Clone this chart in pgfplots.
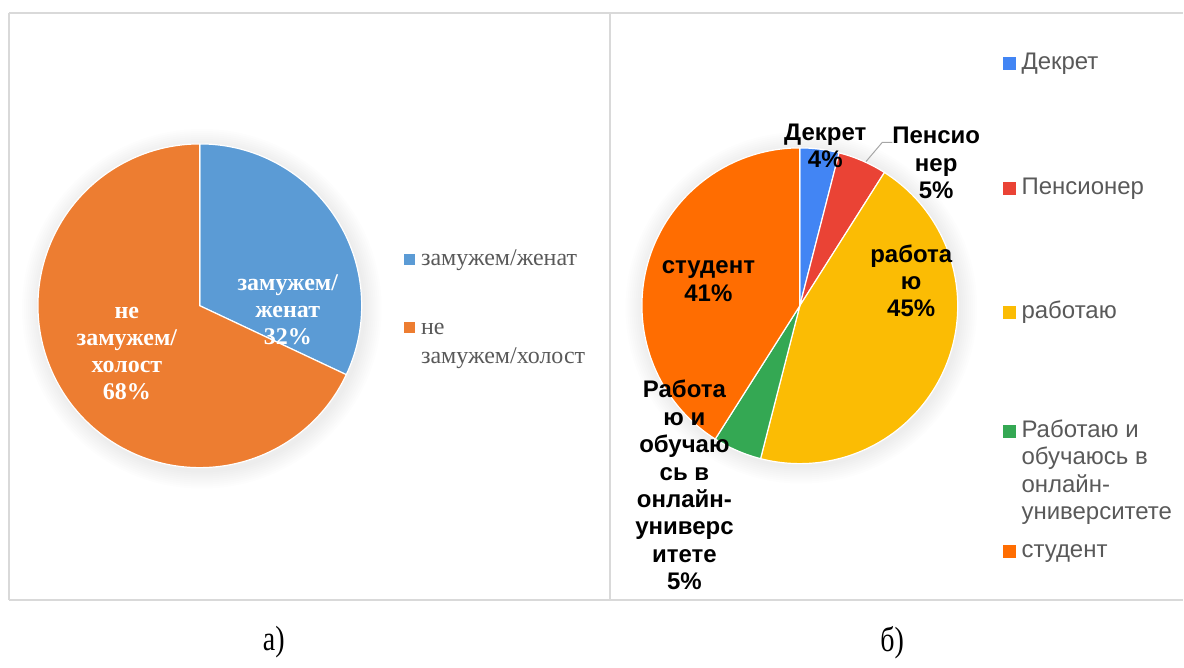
\documentclass[border=0pt]{standalone}
\usepackage{fontspec}
\setmainfont{Liberation Serif}
\newfontfamily\arial{Liberation Sans}
\usepackage{pgfplots}
\pgfplotsset{compat=1.18}

\definecolor{lblue}{HTML}{5B9BD5}
\definecolor{lorange}{HTML}{ED7D31}
\definecolor{gblue}{HTML}{4285F4}
\definecolor{gred}{HTML}{EA4335}
\definecolor{gyellow}{HTML}{FBBC04}
\definecolor{ggreen}{HTML}{34A853}
\definecolor{gorange}{HTML}{FF6D01}
\definecolor{legtext}{HTML}{595959}
\definecolor{frame}{HTML}{D9D9D9}

% pie slices: start angle, arc end angle (math degrees, clockwise from top)
% left: 32% / 68%; right: 4 / 5 / 45 / 5 / 41 %
\newcommand{\slice}[4]{% color, start, end, radius
  \addplot[fill=#1, draw=white, line width=0.6pt, data cs=polar]
    coordinates {(0,0) (#2,1)} arc[start angle=#2, end angle=#3, radius=#4] -- cycle;}

\begin{document}
\begin{tikzpicture}[x=0.5pt, y=-0.5pt]
  \path (0,0) rectangle (1184,660);
  \coordinate (L) at (200,306);
  \coordinate (R) at (800.5,306);
  % frames
  \draw[frame, line width=1pt] (9,13) -- (1184,13);
  \draw[frame, line width=1pt] (9,600) -- (1184,600);
  \draw[frame, line width=1pt] (9,13) -- (9,600);
  \draw[frame, line width=1pt] (611,13) -- (611,600);

  % soft shadows
  \foreach \d in {2,4,...,18} {
    \fill[black, opacity=0.007] (202,309) circle[radius={(162+\d)*0.5pt}];
    \fill[black, opacity=0.007] (802,308) circle[radius={(158+\d)*0.5pt}];
  }

  % ---- left pie ----
  \begin{axis}[at={(L)}, anchor=center, x=81pt, y=81pt,
      xmin=-1, xmax=1, ymin=-1, ymax=1, hide axis, clip=false]
    \slice{lblue}{90}{-25.2}{81pt}
    \slice{lorange}{-25.2}{-270}{81pt}
  \end{axis}

  % ---- right pie ----
  \begin{axis}[at={(R)}, anchor=center, x=79pt, y=79pt,
      xmin=-1, xmax=1, ymin=-1, ymax=1, hide axis, clip=false]
    \slice{gblue}{90}{75.6}{79pt}
    \slice{gred}{75.6}{57.6}{79pt}
    \slice{gyellow}{57.6}{-104.4}{79pt}
    \slice{ggreen}{-104.4}{-122.4}{79pt}
    \slice{gorange}{-122.4}{-270}{79pt}
  \end{axis}

  % left labels
  \begin{scope}[every node/.style={text=white, align=center,
      font=\bfseries\fontsize{12}{13.5}\selectfont}]
    \node at (288,310) {замужем/\\женат\\32\%};
    \node at (127,354) {не\\замужем/\\холост\\68\%};
  \end{scope}
  % left legend
  \fill[lblue] (404,254) rectangle (415,265);
  \fill[lorange] (404,322) rectangle (415,333);
  \begin{scope}[every node/.style={text=legtext, align=left, inner sep=0pt,
      font=\fontsize{12}{14.5}\selectfont}]
    \node[anchor=base west] at (421,266) {замужем/женат};
    \node[anchor=base west] at (421,335) {не};
    \node[anchor=base west] at (421,364) {замужем/холост};
  \end{scope}

  % right labels
  \draw[gray!70, line width=0.5pt] (866.7,161.7) -- (883,142.5) -- (893,142.5);
  \begin{scope}[every node/.style={text=black, align=center,
      font=\arial\bfseries\fontsize{12}{13.7}\selectfont}]
    \node at (826,146) {Декрет\\4\%};
    \node at (937,163) {Пенсио\\нер\\5\%};
    \node at (912,281) {работа\\ю\\45\%};
    \node at (709,281.5) {студент\\41\%};
    \node at (685,485.5) {Работа\\ю и\\обучаю\\сь в\\онлайн-\\универс\\итете\\5\%};
  \end{scope}
  % right legend
  \fill[gblue] (1004,57) rectangle (1017,70);
  \fill[gred] (1004,182) rectangle (1017,195);
  \fill[gyellow] (1004,306) rectangle (1017,319);
  \fill[ggreen] (1004,425) rectangle (1017,438);
  \fill[gorange] (1004,545) rectangle (1017,558);
  \begin{scope}[every node/.style={text=legtext, inner sep=0pt, anchor=base west,
      font=\arial\fontsize{12}{13.7}\selectfont}]
    \node at (1022,70) {Декрет};
    \node at (1022,195) {Пенсионер};
    \node at (1022,319) {работаю};
    \node at (1022,438) {Работаю и};
    \node at (1022,465.3) {обучаюсь в};
    \node at (1022,492.6) {онлайн-};
    \node at (1022,519.9) {университете};
    \node at (1022,558) {студент};
  \end{scope}

  % captions
  \node[font=\fontsize{14}{16}\selectfont, yscale=1.25] at (274,643) {а)};
  \node[font=\fontsize{14}{16}\selectfont, yscale=1.25] at (893,643) {б)};
\end{tikzpicture}
\end{document}
